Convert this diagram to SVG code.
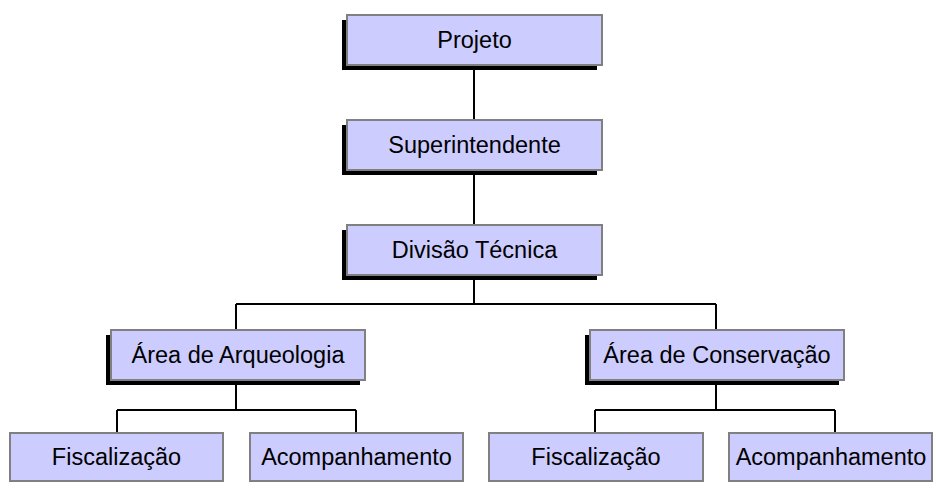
<svg xmlns="http://www.w3.org/2000/svg" width="936" height="488" viewBox="0 0 936 488">
<style>
.box{fill:#ccccff;stroke:#808080;stroke-width:2}
.sh{fill:#000}
.t{font-family:"Liberation Sans",Arial,sans-serif;font-size:23.5px;fill:#000;text-anchor:middle}
.c{fill:none;stroke:#000;stroke-width:2}
</style>
<rect width="936" height="488" fill="#fff"/>
<g id="connectors">
<path class="c" d="M474 65V120M474 170V225M474 275V304M236 304H716M236 304V330M716 304V330"/>
<path class="c" d="M236 380V410M117 410H356M117 410V433M356 410V433"/>
<path class="c" d="M716 380V410M595 410H835M595 410V433M835 410V433"/>
</g>
<g id="projeto">
<rect class="sh" x="342" y="20" width="255" height="50"/>
<rect class="box" x="347" y="15" width="255" height="50"/>
<text class="t" x="474.5" y="48">Projeto</text>
</g>
<g id="superintendente">
<rect class="sh" x="342" y="125" width="255" height="50"/>
<rect class="box" x="347" y="120" width="255" height="50"/>
<text class="t" x="474.5" y="153">Superintendente</text>
</g>
<g id="divisao">
<rect class="sh" x="342" y="230" width="255" height="50"/>
<rect class="box" x="347" y="225" width="255" height="50"/>
<text class="t" x="474.5" y="258">Divisão Técnica</text>
</g>
<g id="arqueologia">
<rect class="sh" x="106" y="335" width="254" height="50"/>
<rect class="box" x="111" y="330" width="254" height="50"/>
<text class="t" x="238" y="363">Área de Arqueologia</text>
</g>
<g id="conservacao">
<rect class="sh" x="585" y="335" width="254" height="50"/>
<rect class="box" x="590" y="330" width="254" height="50"/>
<text class="t" x="717" y="363">Área de Conservação</text>
</g>
<g id="fisc1">
<rect class="box" x="10" y="433" width="213" height="48"/>
<text class="t" x="116.5" y="465">Fiscalização</text>
</g>
<g id="acomp1">
<rect class="box" x="250" y="433" width="213" height="48"/>
<text class="t" x="356.5" y="465">Acompanhamento</text>
</g>
<g id="fisc2">
<rect class="box" x="489" y="433" width="214" height="48"/>
<text class="t" x="596" y="465">Fiscalização</text>
</g>
<g id="acomp2">
<rect class="box" x="729" y="433" width="203" height="48"/>
<text class="t" x="831" y="465">Acompanhamento</text>
</g>
</svg>
